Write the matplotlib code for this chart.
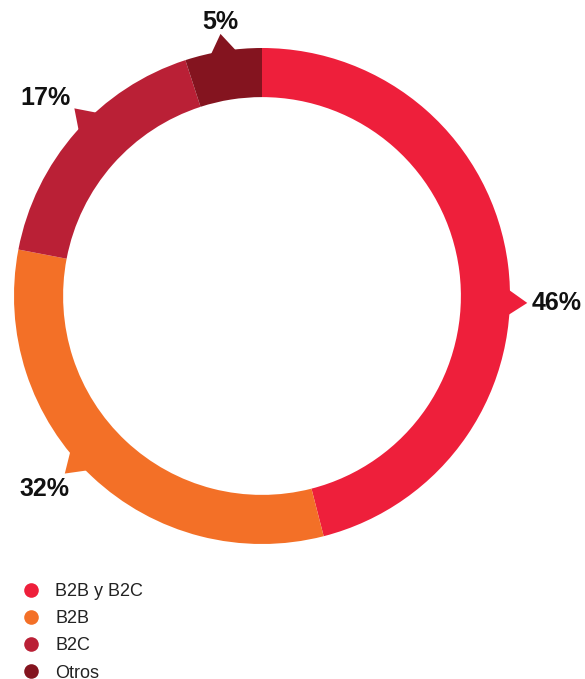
import numpy as np
import matplotlib
matplotlib.use("Agg")
import matplotlib.pyplot as plt
from matplotlib.patches import Polygon
from matplotlib.lines import Line2D

plt.rcParams['font.family'] = ['Liberation Sans', 'DejaVu Sans']

# Share of companies by business model
categories = ["B2B y B2C", "B2B", "B2C", "Otros"]
shares = [46, 32, 17, 5]
labels = ["46%", "32%", "17%", "5%"]
colors = ["#EE1F3B", "#F37027", "#BA2036", "#84141F"]

# Callout layout: pointer angle (degrees clockwise from 12 o'clock),
# label offset from the pointer tip (pixels), alignment
pointer_angle = [91.5, 228.0, 315.0, 351.0]
label_offset = [(4, 0), (5, -22), (-4, 3), (0, 5)]
label_align = [("left", "center"), ("right", "baseline"),
               ("right", "baseline"), ("center", "baseline")]

W, H, DPI = 585, 679, 100
cx, cy, R = 262, 296, 248  # ring centre and radius in pixels

fig = plt.figure(figsize=(W / DPI, H / DPI), dpi=DPI)
ax = fig.add_axes([0, 0, 1, 1])
ax.axis("off")

ax.pie(shares, colors=colors, startangle=90, counterclock=False, radius=1.0,
       wedgeprops=dict(width=0.198, linewidth=0), center=(0, 0))
ax.set_xlim(-cx / R, (W - cx) / R)
ax.set_ylim(-(H - cy) / R, cy / R)
ax.set_aspect("auto")


def polar(theta_deg, r):
    t = np.deg2rad(theta_deg)
    return r * np.sin(t), r * np.cos(t)


px_to_pt = 72 / DPI
for lab, col, ang, off, (ha, va) in zip(labels, colors, pointer_angle,
                                         label_offset, label_align):
    half = 3.4
    b1 = polar(ang - half, 0.985)
    b2 = polar(ang + half, 0.985)
    tip = polar(ang, 1.07)
    ax.add_patch(Polygon([b1, tip, b2], closed=True, facecolor=col,
                         edgecolor="none", zorder=3))
    ax.annotate(lab, xy=tip, xytext=(off[0] * px_to_pt, off[1] * px_to_pt),
                textcoords="offset points", ha=ha, va=va,
                fontsize=18, fontweight="bold", color="#111111")

handles = [Line2D([], [], marker="o", linestyle="none", markersize=10.5,
                  markerfacecolor=c, markeredgecolor="none") for c in colors]
fig.legend(handles, categories, loc="upper left",
           bbox_to_anchor=(22 / W, 1 - 583 / H), frameon=False,
           fontsize=13, handlelength=1.0, handletextpad=0.83,
           labelspacing=0.565, borderaxespad=0, borderpad=0,
           labelcolor="#222222")

fig.savefig("out.png", dpi=DPI)
